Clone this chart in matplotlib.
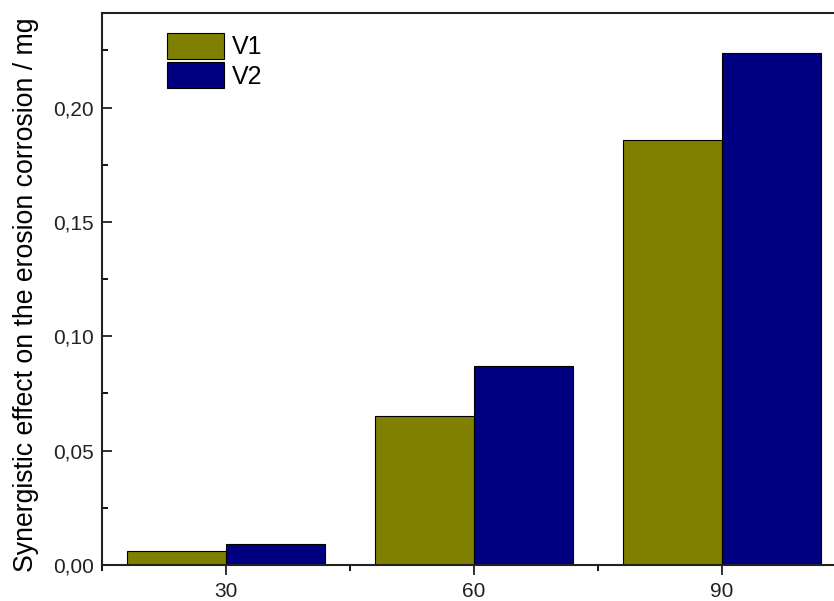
import matplotlib
matplotlib.use('Agg')
import matplotlib.pyplot as plt
from matplotlib.ticker import FuncFormatter, MultipleLocator

plt.rcParams['font.family'] = ['Liberation Sans', 'DejaVu Sans']

# time points and synergistic effect values (mg)
times = [30, 60, 90]
v1_values = [0.006, 0.065, 0.186]
v2_values = [0.009, 0.087, 0.224]
series_labels = ['V1', 'V2']

bar_width = 12

fig = plt.figure(figsize=(8.34, 6.01), dpi=100)
ax = fig.add_axes([0.1223, 0.0599, 0.892, 0.9193])

ax.bar([t - bar_width / 2 for t in times], v1_values, width=bar_width,
       color='#808000', edgecolor='black', linewidth=0.8, label=series_labels[0])
ax.bar([t + bar_width / 2 for t in times], v2_values, width=bar_width,
       color='#000080', edgecolor='black', linewidth=0.8, label=series_labels[1])

ax.set_xlim(15, 105)
ax.set_ylim(0, 0.2416)
ax.set_xticks(times)
ax.xaxis.set_minor_locator(MultipleLocator(15))
ax.yaxis.set_major_locator(MultipleLocator(0.05))
ax.yaxis.set_minor_locator(MultipleLocator(0.025))
ax.yaxis.set_major_formatter(FuncFormatter(lambda v, p: f'{v:.2f}'.replace('.', ',')))

ax.tick_params(axis='x', which='major', direction='out', length=7, width=1.3, labelsize=15, pad=5)
ax.tick_params(axis='x', which='minor', direction='out', length=4, width=1.3)
ax.tick_params(axis='y', which='major', direction='in', length=7, width=1.3, labelsize=15, pad=6)
ax.tick_params(axis='y', which='minor', direction='in', length=4, width=1.3)
ax.tick_params(colors='#222222', labelcolor='#222222')

for side in ['left', 'bottom', 'top', 'right']:
    ax.spines[side].set_linewidth(1.5)
    ax.spines[side].set_color('#222222')

ax.set_ylabel('Synergistic effect on the erosion corrosion / mg', fontsize=19.2, labelpad=10)
ax.yaxis.label.set_y(0.49)

ax.legend(loc='upper left', bbox_to_anchor=(0.087, 0.963), frameon=False, fontsize=18,
          handlelength=2.3, handleheight=1.2, labelspacing=0.13, handletextpad=0.3,
          borderpad=0, borderaxespad=0)

fig.savefig('out.png', dpi=100)
